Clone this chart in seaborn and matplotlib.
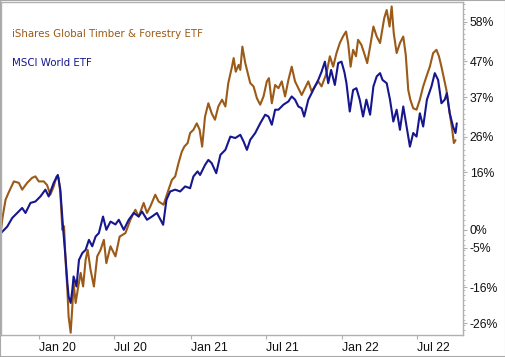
import pandas as pd
import matplotlib.pyplot as plt
import matplotlib.dates as mdates
from matplotlib.patches import Rectangle
from matplotlib.ticker import MultipleLocator
import seaborn as sns

# cumulative return (%)
timber_dates = [
    '2019-10-02', '2019-10-06', '2019-10-13', '2019-10-20', '2019-11-02', '2019-11-14',
    '2019-11-22', '2019-12-04', '2019-12-16', '2019-12-24', '2020-01-01', '2020-01-13',
    '2020-01-21', '2020-01-29', '2020-02-06', '2020-02-13', '2020-02-18', '2020-02-22',
    '2020-02-27', '2020-03-02', '2020-03-06', '2020-03-10', '2020-03-13', '2020-03-18',
    '2020-03-22', '2020-03-25', '2020-03-30', '2020-04-04', '2020-04-11', '2020-04-17',
    '2020-04-23', '2020-04-28', '2020-05-05', '2020-05-13', '2020-05-21', '2020-05-29',
    '2020-06-06', '2020-06-12', '2020-06-22', '2020-07-04', '2020-07-14', '2020-07-28',
    '2020-08-09', '2020-08-21', '2020-08-29', '2020-09-10', '2020-09-18', '2020-09-26',
    '2020-10-08', '2020-10-16', '2020-10-28', '2020-11-09', '2020-11-17', '2020-11-25',
    '2020-12-03', '2020-12-11', '2020-12-17', '2020-12-25', '2020-12-31', '2021-01-08',
    '2021-01-16', '2021-01-23', '2021-01-29', '2021-02-05', '2021-02-13', '2021-02-21',
    '2021-03-01', '2021-03-09', '2021-03-18', '2021-03-26', '2021-04-02', '2021-04-11',
    '2021-04-15', '2021-04-20', '2021-04-27', '2021-05-01', '2021-05-06', '2021-05-13',
    '2021-05-19', '2021-05-25', '2021-06-02', '2021-06-10', '2021-06-18', '2021-06-26',
    '2021-07-04', '2021-07-09', '2021-07-16', '2021-07-24', '2021-08-01', '2021-08-09',
    '2021-08-17', '2021-08-25', '2021-09-02', '2021-09-10', '2021-09-18', '2021-09-26',
    '2021-10-04', '2021-10-12', '2021-10-20', '2021-10-28', '2021-11-05', '2021-11-13',
    '2021-11-25', '2021-12-03', '2021-12-11', '2021-12-19', '2021-12-27', '2022-01-04',
    '2022-01-11', '2022-01-16', '2022-01-22', '2022-01-28', '2022-02-04', '2022-02-09',
    '2022-02-17', '2022-02-25', '2022-03-03', '2022-03-10', '2022-03-18', '2022-03-26',
    '2022-04-03', '2022-04-13', '2022-04-19', '2022-04-26', '2022-05-01', '2022-05-06',
    '2022-05-13', '2022-05-21', '2022-05-29', '2022-06-04', '2022-06-10', '2022-06-15',
    '2022-06-22', '2022-06-30', '2022-07-08', '2022-07-16', '2022-07-24', '2022-08-01',
    '2022-08-09', '2022-08-17', '2022-08-23', '2022-08-29', '2022-09-03', '2022-09-10',
    '2022-09-18', '2022-09-24', '2022-09-28', '2022-10-02',
]
timber_pct = [
    0.0, 3.7, 8.4, 10.3, 13.5, 13.1,
    11.2, 13.1, 14.5, 14.9, 13.5, 13.5,
    12.5, 9.8, 12.1, 14.9, 14.5, 10.3,
    0.0, 1.0, -9.3, -16.7, -24.2, -28.7,
    -21.4, -14.8, -20.4, -16.7, -12.0, -15.8,
    -8.4, -5.6, -11.2, -15.8, -7.4, -5.6,
    -2.8, -9.3, -4.6, -7.4, -1.9, -0.9,
    2.8, 5.6, 3.7, 7.5, 4.7, 6.5,
    9.8, 7.9, 7.0, 11.2, 13.9, 14.9,
    18.6, 21.8, 23.2, 24.2, 27.0, 27.9,
    29.7, 27.9, 23.2, 31.6, 35.3, 32.5,
    30.7, 34.4, 36.3, 34.4, 40.9, 45.5,
    47.9, 44.1, 46.0, 44.6, 51.1, 46.5,
    43.7, 40.9, 40.0, 36.7, 34.9, 37.2,
    41.4, 42.3, 35.3, 40.4, 39.5, 41.4,
    37.2, 41.8, 45.5, 41.4, 39.5, 37.6,
    39.5, 41.4, 38.6, 40.0, 41.4, 40.0,
    43.7, 48.4, 45.5, 49.3, 52.1, 54.0,
    55.3, 52.1, 45.5, 50.2, 48.4, 53.0,
    51.6, 48.8, 46.5, 51.1, 56.7, 53.9,
    52.1, 59.0, 61.3, 56.7, 62.3, 54.9,
    49.3, 52.1, 53.9, 48.8, 39.0, 36.3,
    33.9, 33.5, 36.3, 40.0, 42.8, 45.5,
    49.3, 50.2, 48.4, 45.5, 42.8, 39.0,
    32.5, 27.9, 24.2, 25.0,
]

world_dates = [
    '2019-10-02', '2019-10-17', '2019-10-29', '2019-11-10', '2019-11-22', '2019-11-30',
    '2019-12-12', '2019-12-24', '2020-01-05', '2020-01-17', '2020-01-25', '2020-02-06',
    '2020-02-16', '2020-02-22', '2020-02-29', '2020-03-06', '2020-03-10', '2020-03-13',
    '2020-03-18', '2020-03-22', '2020-03-25', '2020-04-01', '2020-04-07', '2020-04-15',
    '2020-04-23', '2020-05-01', '2020-05-09', '2020-05-17', '2020-05-25', '2020-06-04',
    '2020-06-12', '2020-06-22', '2020-07-04', '2020-07-12', '2020-07-24', '2020-08-05',
    '2020-08-17', '2020-08-29', '2020-09-06', '2020-09-18', '2020-09-30', '2020-10-12',
    '2020-10-27', '2020-11-04', '2020-11-13', '2020-11-25', '2020-12-07', '2020-12-19',
    '2020-12-31', '2021-01-08', '2021-01-18', '2021-01-24', '2021-02-05', '2021-02-13',
    '2021-02-21', '2021-03-04', '2021-03-14', '2021-03-26', '2021-04-07', '2021-04-19',
    '2021-05-01', '2021-05-09', '2021-05-17', '2021-05-25', '2021-06-06', '2021-06-18',
    '2021-06-30', '2021-07-08', '2021-07-16', '2021-07-24', '2021-08-01', '2021-08-13',
    '2021-08-25', '2021-09-02', '2021-09-10', '2021-09-18', '2021-09-26', '2021-10-02',
    '2021-10-12', '2021-10-20', '2021-10-28', '2021-11-05', '2021-11-13', '2021-11-21',
    '2021-11-29', '2021-12-06', '2021-12-15', '2021-12-23', '2021-12-31', '2022-01-07',
    '2022-01-12', '2022-01-20', '2022-01-28', '2022-02-05', '2022-02-13', '2022-02-21',
    '2022-03-01', '2022-03-10', '2022-03-18', '2022-03-26', '2022-04-03', '2022-04-09',
    '2022-04-19', '2022-04-27', '2022-05-05', '2022-05-13', '2022-05-21', '2022-05-29',
    '2022-06-06', '2022-06-14', '2022-06-22', '2022-06-30', '2022-07-08', '2022-07-16',
    '2022-07-25', '2022-08-05', '2022-08-13', '2022-08-21', '2022-08-29', '2022-09-06',
    '2022-09-11', '2022-09-18', '2022-09-26', '2022-10-02', '2022-10-05',
]
world_pct = [
    -0.9, 0.9, 3.3, 4.7, 6.1, 4.7,
    7.5, 7.9, 9.3, 11.2, 9.3, 13.1,
    15.3, 11.2, 0.0, -8.4, -14.8, -18.6,
    -20.4, -16.7, -13.0, -15.8, -8.4, -6.5,
    -5.6, -2.8, -4.6, -1.9, -0.9, 3.7,
    0.0, 2.3, 1.5, 2.8, 0.0, 2.8,
    4.7, 3.7, 5.1, 2.8, 3.7, 4.7,
    1.4, 8.4, 10.7, 11.2, 10.7, 12.1,
    11.6, 14.9, 16.3, 15.3, 18.1, 19.5,
    18.6, 15.8, 20.9, 22.3, 26.0, 25.6,
    26.5, 24.6, 22.3, 25.1, 27.0, 29.7,
    32.1, 31.6, 29.3, 33.5, 33.5, 34.9,
    35.8, 37.2, 36.3, 34.4, 33.9, 31.6,
    36.3, 38.1, 40.0, 41.8, 44.1, 46.9,
    40.9, 44.6, 40.4, 46.5, 46.9, 44.0,
    40.9, 33.0, 39.0, 39.5, 36.3, 31.6,
    36.3, 32.1, 40.0, 42.8, 43.7, 41.8,
    40.9, 36.3, 30.2, 33.5, 27.9, 34.4,
    28.8, 23.2, 27.0, 26.0, 32.5, 28.8,
    36.3, 40.0, 43.7, 41.8, 35.3, 36.3,
    38.1, 32.5, 28.8, 27.0, 29.7,
]

fund_names = ['iShares Global Timber & Forestry ETF', 'MSCI World ETF']
fund_colors = ['#9b5a17', '#16168f']

y_ticks = [58, 47, 37, 26, 16, 0, -5, -16, -26]
x_ticks = ['2020-01-01', '2020-07-01', '2021-01-01', '2021-07-01', '2022-01-01', '2022-07-01']
x_tick_labels = ['Jan 20', 'Jul 20', 'Jan 21', 'Jul 21', 'Jan 22', 'Jul 22']

df = pd.concat([
    pd.DataFrame({'date': pd.to_datetime(timber_dates), 'pct': timber_pct, 'fund': fund_names[0]}),
    pd.DataFrame({'date': pd.to_datetime(world_dates), 'pct': world_pct, 'fund': fund_names[1]}),
], ignore_index=True)

sns.set_style('white')
plt.rcParams['font.family'] = ['Liberation Sans', 'DejaVu Sans']

grey = '#b0b0b0'
fig = plt.figure(figsize=(5.06, 3.57), dpi=100)
ax = fig.add_axes([0.002, 0.062, 0.913, 0.933])

sns.lineplot(data=df, x='date', y='pct', hue='fund', hue_order=fund_names,
             palette=fund_colors, estimator=None, linewidth=1.5, legend=False, ax=ax)

ax.set_xlim(pd.Timestamp('2019-10-02'), pd.Timestamp('2022-10-20'))
ax.set_ylim(-29.3, 63.6)

ax.yaxis.tick_right()
ax.set_yticks(y_ticks)
ax.set_yticklabels([f'{v}%' for v in y_ticks])
ax.yaxis.set_minor_locator(MultipleLocator(1.4))
ax.set_xticks(pd.to_datetime(x_ticks))
ax.set_xticklabels(x_tick_labels, ha='left')
ax.set_xlabel('')
ax.set_ylabel('')

ax.tick_params(axis='y', which='major', right=True, length=3, color=grey,
               labelsize=8.8, pad=2, labelcolor='#111111')
ax.tick_params(axis='y', which='minor', right=True, length=1.5, color=grey)
ax.tick_params(axis='x', bottom=True, length=3, color=grey, labelsize=8.8,
               pad=2, labelcolor='#111111')

for s in ax.spines.values():
    s.set_color(grey)
    s.set_linewidth(1.0)

fig.text(12 / 506, 1 - 34 / 357, fund_names[0], color=fund_colors[0],
         fontsize=7.4, family='DejaVu Sans', va='center', ha='left')
fig.text(12 / 506, 1 - 63 / 357, fund_names[1], color=fund_colors[1],
         fontsize=7.4, family='DejaVu Sans', va='center', ha='left')

fig.patches.append(Rectangle((0, 0), 1, 1, transform=fig.transFigure, fill=False,
                             edgecolor='#a8a8a8', linewidth=1.5))

fig.savefig('out.png', dpi=100)
